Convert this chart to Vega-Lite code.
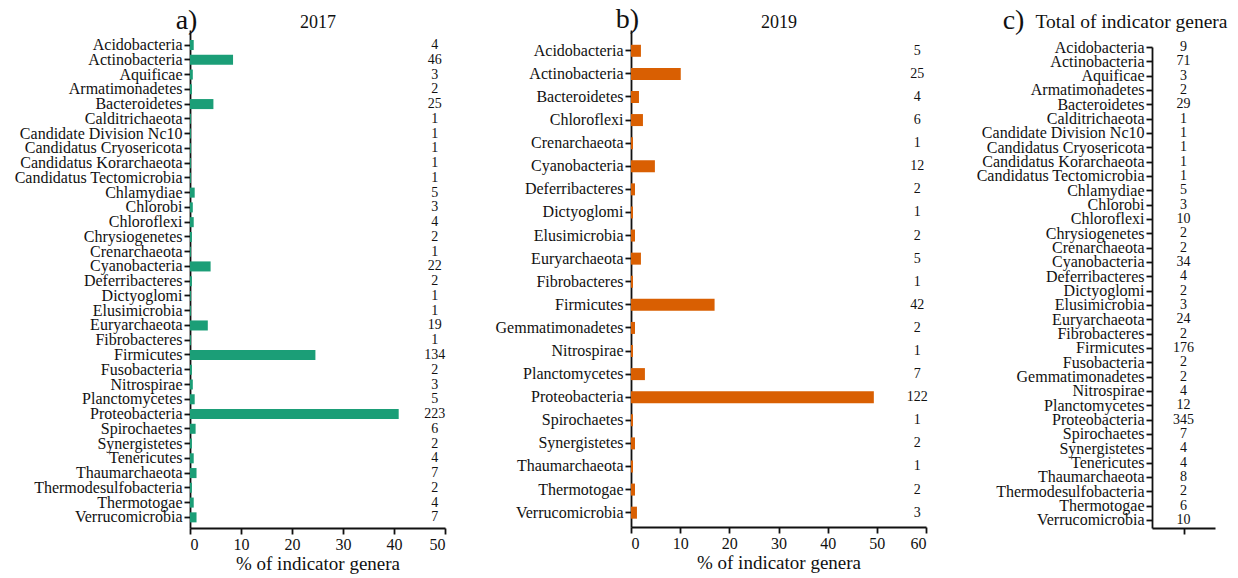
{
  "$schema": "https://vega.github.io/schema/vega-lite/v6.json",
  "background": "white",
  "padding": {"left": 13, "top": 5, "right": 5, "bottom": 2},
  "spacing": 47,
  "config": {
    "font": "Liberation Serif",
    "view": {"stroke": null},
    "axis": {
      "grid": false,
      "domainColor": "#111",
      "domainWidth": 1.8,
      "tickColor": "#111",
      "tickWidth": 1.8,
      "tickSize": 6,
      "labelColor": "#111",
      "titleColor": "#111",
      "labelFont": "Liberation Serif",
      "titleFont": "Liberation Serif",
      "labelFontSize": 16,
      "titleFontSize": 19,
      "titleFontWeight": "normal",
      "labelOverlap": false,
      "labelLimit": 400
    }
  },
  "datasets": {
    "y2017": [
      {"phylum": "Acidobacteria", "n": 4, "pct": 0.73},
      {"phylum": "Actinobacteria", "n": 46, "pct": 8.44},
      {"phylum": "Aquificae", "n": 3, "pct": 0.55},
      {"phylum": "Armatimonadetes", "n": 2, "pct": 0.37},
      {"phylum": "Bacteroidetes", "n": 25, "pct": 4.59},
      {"phylum": "Calditrichaeota", "n": 1, "pct": 0.18},
      {"phylum": "Candidate Division Nc10", "n": 1, "pct": 0.18},
      {"phylum": "Candidatus Cryosericota", "n": 1, "pct": 0.18},
      {"phylum": "Candidatus Korarchaeota", "n": 1, "pct": 0.18},
      {"phylum": "Candidatus Tectomicrobia", "n": 1, "pct": 0.18},
      {"phylum": "Chlamydiae", "n": 5, "pct": 0.92},
      {"phylum": "Chlorobi", "n": 3, "pct": 0.55},
      {"phylum": "Chloroflexi", "n": 4, "pct": 0.73},
      {"phylum": "Chrysiogenetes", "n": 2, "pct": 0.37},
      {"phylum": "Crenarchaeota", "n": 1, "pct": 0.18},
      {"phylum": "Cyanobacteria", "n": 22, "pct": 4.04},
      {"phylum": "Deferribacteres", "n": 2, "pct": 0.37},
      {"phylum": "Dictyoglomi", "n": 1, "pct": 0.18},
      {"phylum": "Elusimicrobia", "n": 1, "pct": 0.18},
      {"phylum": "Euryarchaeota", "n": 19, "pct": 3.49},
      {"phylum": "Fibrobacteres", "n": 1, "pct": 0.18},
      {"phylum": "Firmicutes", "n": 134, "pct": 24.59},
      {"phylum": "Fusobacteria", "n": 2, "pct": 0.37},
      {"phylum": "Nitrospirae", "n": 3, "pct": 0.55},
      {"phylum": "Planctomycetes", "n": 5, "pct": 0.92},
      {"phylum": "Proteobacteria", "n": 223, "pct": 40.92},
      {"phylum": "Spirochaetes", "n": 6, "pct": 1.10},
      {"phylum": "Synergistetes", "n": 2, "pct": 0.37},
      {"phylum": "Tenericutes", "n": 4, "pct": 0.73},
      {"phylum": "Thaumarchaeota", "n": 7, "pct": 1.28},
      {"phylum": "Thermodesulfobacteria", "n": 2, "pct": 0.37},
      {"phylum": "Thermotogae", "n": 4, "pct": 0.73},
      {"phylum": "Verrucomicrobia", "n": 7, "pct": 1.28}
    ],
    "y2019": [
      {"phylum": "Acidobacteria", "n": 5, "pct": 2.02},
      {"phylum": "Actinobacteria", "n": 25, "pct": 10.12},
      {"phylum": "Bacteroidetes", "n": 4, "pct": 1.62},
      {"phylum": "Chloroflexi", "n": 6, "pct": 2.43},
      {"phylum": "Crenarchaeota", "n": 1, "pct": 0.40},
      {"phylum": "Cyanobacteria", "n": 12, "pct": 4.86},
      {"phylum": "Deferribacteres", "n": 2, "pct": 0.81},
      {"phylum": "Dictyoglomi", "n": 1, "pct": 0.40},
      {"phylum": "Elusimicrobia", "n": 2, "pct": 0.81},
      {"phylum": "Euryarchaeota", "n": 5, "pct": 2.02},
      {"phylum": "Fibrobacteres", "n": 1, "pct": 0.40},
      {"phylum": "Firmicutes", "n": 42, "pct": 17.00},
      {"phylum": "Gemmatimonadetes", "n": 2, "pct": 0.81},
      {"phylum": "Nitrospirae", "n": 1, "pct": 0.40},
      {"phylum": "Planctomycetes", "n": 7, "pct": 2.83},
      {"phylum": "Proteobacteria", "n": 122, "pct": 49.39},
      {"phylum": "Spirochaetes", "n": 1, "pct": 0.40},
      {"phylum": "Synergistetes", "n": 2, "pct": 0.81},
      {"phylum": "Thaumarchaeota", "n": 1, "pct": 0.40},
      {"phylum": "Thermotogae", "n": 2, "pct": 0.81},
      {"phylum": "Verrucomicrobia", "n": 3, "pct": 1.21}
    ],
    "total": [
      {"phylum": "Acidobacteria", "n": 9},
      {"phylum": "Actinobacteria", "n": 71},
      {"phylum": "Aquificae", "n": 3},
      {"phylum": "Armatimonadetes", "n": 2},
      {"phylum": "Bacteroidetes", "n": 29},
      {"phylum": "Calditrichaeota", "n": 1},
      {"phylum": "Candidate Division Nc10", "n": 1},
      {"phylum": "Candidatus Cryosericota", "n": 1},
      {"phylum": "Candidatus Korarchaeota", "n": 1},
      {"phylum": "Candidatus Tectomicrobia", "n": 1},
      {"phylum": "Chlamydiae", "n": 5},
      {"phylum": "Chlorobi", "n": 3},
      {"phylum": "Chloroflexi", "n": 10},
      {"phylum": "Chrysiogenetes", "n": 2},
      {"phylum": "Crenarchaeota", "n": 2},
      {"phylum": "Cyanobacteria", "n": 34},
      {"phylum": "Deferribacteres", "n": 4},
      {"phylum": "Dictyoglomi", "n": 2},
      {"phylum": "Elusimicrobia", "n": 3},
      {"phylum": "Euryarchaeota", "n": 24},
      {"phylum": "Fibrobacteres", "n": 2},
      {"phylum": "Firmicutes", "n": 176},
      {"phylum": "Fusobacteria", "n": 2},
      {"phylum": "Gemmatimonadetes", "n": 2},
      {"phylum": "Nitrospirae", "n": 4},
      {"phylum": "Planctomycetes", "n": 12},
      {"phylum": "Proteobacteria", "n": 345},
      {"phylum": "Spirochaetes", "n": 7},
      {"phylum": "Synergistetes", "n": 4},
      {"phylum": "Tenericutes", "n": 4},
      {"phylum": "Thaumarchaeota", "n": 8},
      {"phylum": "Thermodesulfobacteria", "n": 2},
      {"phylum": "Thermotogae", "n": 6},
      {"phylum": "Verrucomicrobia", "n": 10}
    ]
  },
  "hconcat": [
    {
      "width": 255,
      "height": 498,
      "data": {"name": "y2017"},
      "resolve": {"axis": {"x": "independent"}},
      "encoding": {
        "y": {
          "field": "phylum", "type": "nominal", "sort": null,
          "scale": {"paddingInner": 0.32, "paddingOuter": 0.53, "align": 0.64},
          "axis": {
            "title": "a)", "titleAngle": 0, "titleFontSize": 28,
            "titleX": -4, "titleY": -2, "titleAlign": "center", "titleBaseline": "alphabetic",
            "labelPadding": 2
          }
        }
      },
      "layer": [
        {
          "mark": {"type": "bar", "color": "#1b9e77"},
          "encoding": {
            "x": {
              "field": "pct", "type": "quantitative",
              "scale": {"domain": [0, 50], "nice": false},
              "axis": {"title": "% of indicator genera", "values": [0, 10, 20, 30, 40, 50], "labelPadding": 2, "titlePadding": 2}
            }
          }
        },
        {
          "mark": {"type": "text", "font": "Liberation Serif", "fontSize": 14, "color": "#111", "align": "center", "baseline": "middle"},
          "encoding": {
            "x": {
              "datum": 48, "type": "quantitative",
              "axis": {
                "orient": "top", "domain": false, "ticks": false, "labels": false,
                "title": "2017", "titleFontSize": 18, "titleY": -3, "titleBaseline": "alphabetic"
              }
            },
            "text": {"field": "n", "type": "quantitative"}
          }
        }
      ]
    },
    {
      "width": 295,
      "height": 497,
      "data": {"name": "y2019"},
      "resolve": {"axis": {"x": "independent"}},
      "encoding": {
        "y": {
          "field": "phylum", "type": "nominal", "sort": null,
          "scale": {"paddingInner": 0.48, "paddingOuter": 0.5, "align": 0.64},
          "axis": {
            "title": "b)", "titleAngle": 0, "titleFontSize": 28,
            "titleX": -4, "titleY": -3, "titleAlign": "center", "titleBaseline": "alphabetic",
            "labelPadding": 2, "minExtent": 138
          }
        }
      },
      "layer": [
        {
          "mark": {"type": "bar", "color": "#d95f02"},
          "encoding": {
            "x": {
              "field": "pct", "type": "quantitative",
              "scale": {"domain": [0, 60], "nice": false},
              "axis": {"title": "% of indicator genera", "values": [0, 10, 20, 30, 40, 50, 60], "labelPadding": 2, "titlePadding": 2}
            }
          }
        },
        {
          "mark": {"type": "text", "font": "Liberation Serif", "fontSize": 14, "color": "#111", "align": "center", "baseline": "middle"},
          "encoding": {
            "x": {
              "datum": 58.2, "type": "quantitative",
              "axis": {
                "orient": "top", "domain": false, "ticks": false, "labels": false,
                "title": "2019", "titleFontSize": 18, "titleY": -3, "titleBaseline": "alphabetic"
              }
            },
            "text": {"field": "n", "type": "quantitative"}
          }
        }
      ]
    },
    {
      "width": 63,
      "height": 498,
      "data": {"name": "total"},
      "mark": {"type": "text", "font": "Liberation Serif", "fontSize": 14, "color": "#111", "align": "center", "baseline": "middle"},
      "encoding": {
        "y": {
          "field": "phylum", "type": "nominal", "sort": null,
          "scale": {"type": "point", "range": [17, 498], "padding": 0.28, "align": 0},
          "axis": {
            "title": "c)", "titleAngle": 0, "titleFontSize": 28,
            "titleX": -139, "titleY": -2, "titleAlign": "center", "titleBaseline": "alphabetic",
            "labelPadding": 2
          }
        },
        "x": {
          "datum": 1, "type": "quantitative",
          "scale": {"domain": [0, 2], "nice": false},
          "axis": {
            "values": [1], "labels": false,
            "title": "Total of indicator genera", "titleFontSize": 19.5,
            "titleX": 75, "titleY": -501, "titleAlign": "right", "titleBaseline": "alphabetic"
          }
        },
        "text": {"field": "n", "type": "quantitative"}
      }
    }
  ]
}
